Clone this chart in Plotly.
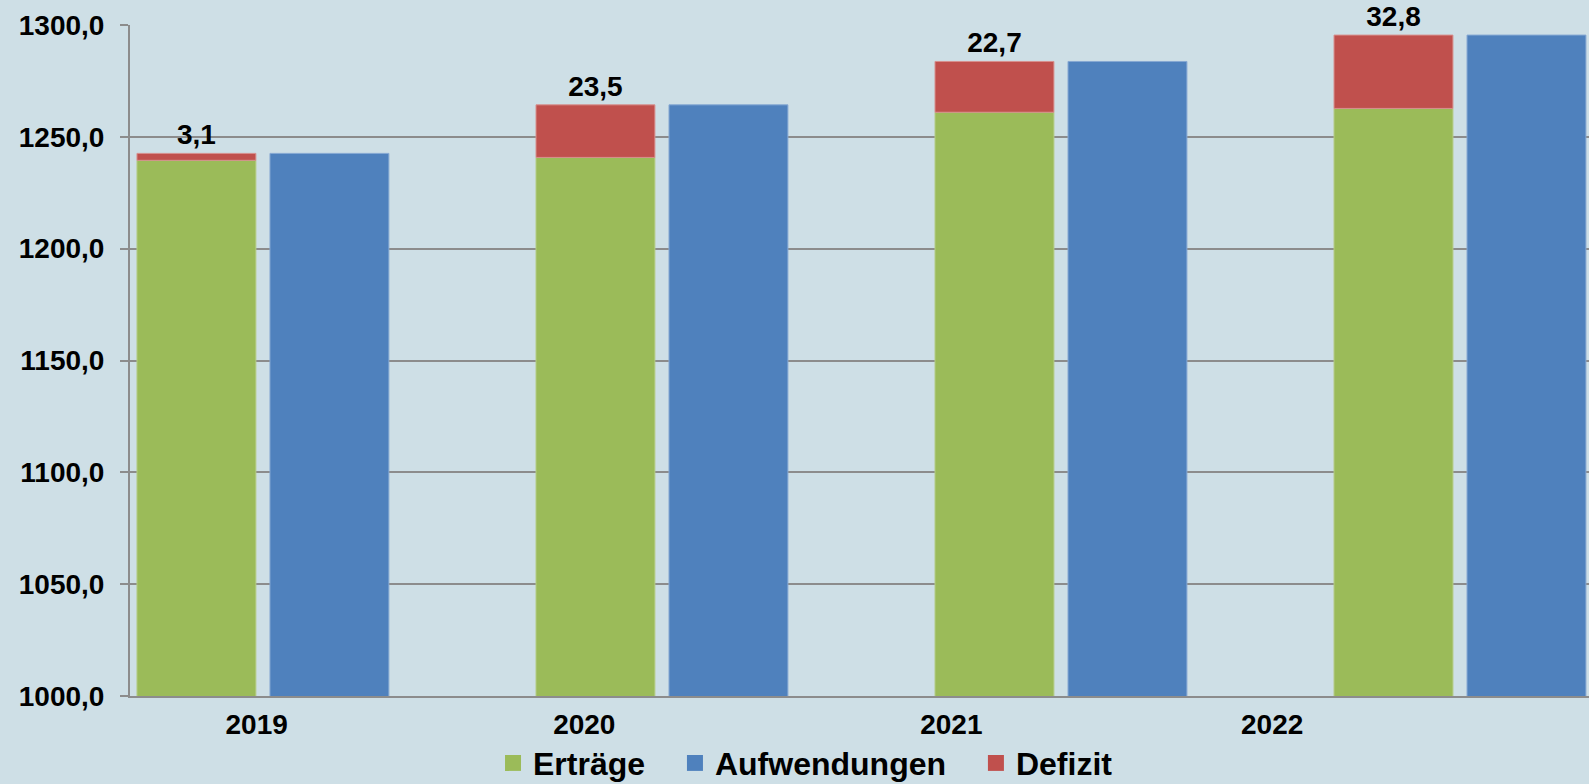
import plotly.graph_objects as go

# ---- data ----
years = ["2019", "2020", "2021", "2022"]
ertraege = [1239.5, 1240.8, 1261.0, 1262.7]
defizit = [3.1, 23.5, 22.7, 32.8]
aufwendungen = [1242.6, 1264.3, 1283.7, 1295.5]
y_ticks = [1000, 1050, 1100, 1150, 1200, 1250, 1300]
legend_names = ["Erträge", "Aufwendungen", "Defizit"]

# ---- layout constants ----
x_pos = list(range(len(years)))
label_pos = [0.300, 1.121, 2.041, 2.845]
bar_w = 0.298
blue_off = 0.3333

GREEN = "#9BBB59"
BLUE = "#4F81BD"
RED = "#C0504D"
BG = "#CEDFE6"
GRID = "#8C8C8C"
FONT = "Liberation Sans, Arial, sans-serif"

fig = go.Figure()

fig.add_trace(go.Bar(
    x=x_pos, y=ertraege, base=[0] * len(years), offset=0, width=bar_w,
    marker=dict(color=GREEN, line=dict(width=1, color="#B4CC86")),
    name="Erträge", showlegend=False, hoverinfo="skip",
))
fig.add_trace(go.Bar(
    x=x_pos, y=defizit, base=ertraege, offset=0, width=bar_w,
    marker=dict(color=RED, line=dict(width=1, color="#D7908E")),
    name="Defizit", showlegend=False,
    texttemplate="%{y:.1f}", textposition="outside",
    textfont=dict(family=FONT, size=28, color="black", weight="bold"),
    cliponaxis=False, hoverinfo="skip",
))
fig.add_trace(go.Bar(
    x=x_pos, y=aufwendungen, base=[0] * len(years), offset=blue_off, width=bar_w,
    marker=dict(color=BLUE, line=dict(width=1, color="#86A8D3")),
    name="Aufwendungen", showlegend=False, hoverinfo="skip",
))

# legend entries (square markers)
pad = "\u00a0\u2002"
for i, (nm, col) in enumerate(zip(legend_names, [GREEN, BLUE, RED])):
    fig.add_trace(go.Scatter(
        x=[None], y=[None], mode="markers",
        name=nm + (pad if i < len(legend_names) - 1 else ""),
        marker=dict(symbol="square", size=16, color=col),
    ))

fig.update_layout(
    width=1589, height=784,
    barmode="overlay",
    separators=",.",
    paper_bgcolor=BG, plot_bgcolor=BG,
    margin=dict(l=130, r=0, t=25, b=88, autoexpand=False),
    font=dict(family=FONT, size=28, color="black", weight="bold"),
    showlegend=True,
    legend=dict(
        orientation="h", x=0.463, xanchor="center", y=-0.100, yanchor="middle",
        font=dict(family=FONT, size=32, color="black", weight="bold"),
        bgcolor="rgba(0,0,0,0)", traceorder="normal",
    ),
    xaxis=dict(
        range=[-0.0175, 3.639], tickvals=label_pos, ticktext=years,
        showgrid=False, zeroline=False, showline=True, linecolor=GRID, linewidth=2,
        ticks="", ticklabelstandoff=2,
        tickfont=dict(family=FONT, size=28, color="black", weight="bold"),
    ),
    yaxis=dict(
        range=[1000, 1300], tickvals=y_ticks, tickformat=".1f",
        showgrid=True, gridcolor=GRID, gridwidth=2, zeroline=False,
        showline=True, linecolor=GRID, linewidth=2,
        ticks="outside", ticklen=8, tickcolor=GRID, tickwidth=2,
        ticklabelstandoff=10,
        tickfont=dict(family=FONT, size=28, color="black", weight="bold"),
    ),
)

fig.write_html(
    "out.html",
    config={"displayModeBar": False},
    post_script="document.body.style.margin='0';document.body.style.overflow='hidden';",
)
